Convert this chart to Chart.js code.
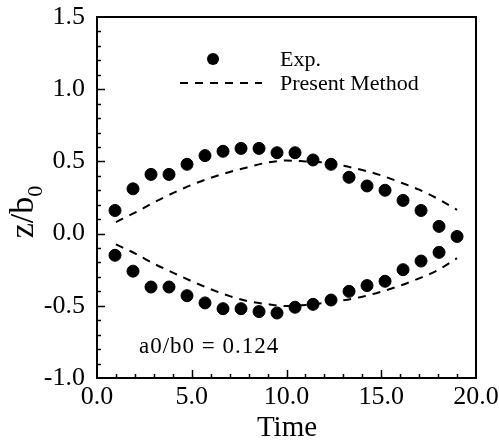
<!DOCTYPE html>
<html>
<head>
<meta charset="utf-8">
<script src="https://cdn.jsdelivr.net/npm/chart.js@4"></script>
<style>
  body { margin: 0; background: #fff; }
  canvas { display: block; }
</style>
</head>
<body>
<canvas id="plot" width="499" height="444"></canvas>
<script>
// measured displacement, upper and lower edge
const expTime = [0.95, 1.9, 2.85, 3.8, 4.75, 5.7, 6.65, 7.6, 8.55, 9.5, 10.45, 11.4, 12.35, 13.3, 14.25, 15.2, 16.15, 17.1, 18.05, 19.0];
const expUpper = [0.16, 0.31, 0.41, 0.41, 0.48, 0.54, 0.57, 0.59, 0.59, 0.56, 0.56, 0.51, 0.48, 0.39, 0.33, 0.30, 0.23, 0.16, 0.05, -0.02];
const expLower = [-0.15, -0.26, -0.37, -0.37, -0.43, -0.48, -0.52, -0.52, -0.54, -0.55, -0.51, -0.49, -0.46, -0.40, -0.36, -0.33, -0.25, -0.19, -0.13];

// computed curves
const methodTime = [1, 2, 3, 4, 5, 6, 7, 8, 9, 10, 11, 12, 13, 14, 15, 16, 17, 18, 19];
const methodUpper = [0.08, 0.145, 0.215, 0.28, 0.338, 0.386, 0.427, 0.461, 0.492, 0.506, 0.50, 0.492, 0.47, 0.44, 0.403, 0.355, 0.304, 0.24, 0.165];
const methodLower = [-0.075, -0.137, -0.208, -0.27, -0.33, -0.385, -0.433, -0.469, -0.489, -0.502, -0.495, -0.48, -0.462, -0.437, -0.402, -0.36, -0.31, -0.252, -0.17];

const xTicks = [0, 5, 10, 15, 20];
const yTicks = [-1.0, -0.5, 0.0, 0.5, 1.0, 1.5];

const serif = '"Liberation Serif", "Times New Roman", serif';
const dash = [8, 7];

function pts(xs, ys) {
    return ys.map((y, i) => ({ x: xs[i], y: y }));
}

// box, inward ticks, legend and labels
const decorations = {
    id: 'decorations',
    afterDraw(chart) {
        const ctx = chart.ctx;
        const a = chart.chartArea;
        const xs = chart.scales.x, ys = chart.scales.y;
        ctx.save();
        ctx.strokeStyle = '#000';
        ctx.lineWidth = 2;
        ctx.strokeRect(a.left, a.top, a.right - a.left, a.bottom - a.top);

        ctx.lineWidth = 1.5;
        ctx.beginPath();
        for (let t = 1; t < 20; t++) {
            const px = Math.round(xs.getPixelForValue(t)) + 0.5;
            const len = t % 5 === 0 ? 8 : 4;
            ctx.moveTo(px, a.bottom);
            ctx.lineTo(px, a.bottom - len);
        }
        for (let k = -9; k < 15; k++) {
            const py = Math.round(ys.getPixelForValue(k / 10)) + 0.5;
            const len = k % 5 === 0 ? 8 : 4;
            ctx.moveTo(a.left, py);
            ctx.lineTo(a.left + len, py);
        }
        ctx.stroke();

        // legend
        ctx.fillStyle = '#000';
        ctx.beginPath();
        ctx.arc(213, 59, 6, 0, Math.PI * 2);
        ctx.fill();
        ctx.setLineDash(dash);
        ctx.lineWidth = 2;
        ctx.beginPath();
        ctx.moveTo(180, 83);
        ctx.lineTo(262, 83);
        ctx.stroke();
        ctx.setLineDash([]);
        ctx.font = '22px ' + serif;
        ctx.textBaseline = 'alphabetic';
        ctx.textAlign = 'left';
        ctx.fillText('Exp.', 280, 66);
        ctx.fillText('Present Method', 280, 90);

        ctx.font = '23px ' + serif;
        ctx.letterSpacing = '1px';
        ctx.fillText('a0/b0 = 0.124', 139, 353);
        ctx.letterSpacing = '0px';

        // axis titles
        ctx.font = '29px ' + serif;
        ctx.textAlign = 'center';
        ctx.fillText('Time', 287, 436);

        ctx.translate(33, 212);
        ctx.rotate(-Math.PI / 2);
        ctx.textAlign = 'left';
        const main = 'z/b';
        ctx.font = '34px ' + serif;
        const w1 = ctx.measureText(main).width;
        ctx.font = '22px ' + serif;
        const w2 = ctx.measureText('0').width;
        const x0 = -(w1 + w2) / 2;
        ctx.font = '34px ' + serif;
        ctx.fillText(main, x0, 0);
        ctx.font = '22px ' + serif;
        ctx.fillText('0', x0 + w1, 9);
        ctx.restore();
    }
};

new Chart(document.getElementById('plot'), {
    type: 'scatter',
    data: {
        datasets: [
            {
                label: 'Exp.',
                data: pts(expTime, expUpper),
                backgroundColor: '#000',
                borderColor: '#000',
                pointRadius: 6,
                showLine: false,
            },
            {
                label: 'Exp. lower',
                data: pts(expTime, expLower),
                backgroundColor: '#000',
                borderColor: '#000',
                pointRadius: 6,
                showLine: false,
            },
            {
                label: 'Present Method',
                data: pts(methodTime, methodUpper),
                borderColor: '#000',
                borderWidth: 2,
                borderDash: dash,
                pointRadius: 0,
                showLine: true,
                cubicInterpolationMode: 'monotone',
            },
            {
                label: 'Present Method lower',
                data: pts(methodTime, methodLower),
                borderColor: '#000',
                borderWidth: 2,
                borderDash: dash,
                pointRadius: 0,
                showLine: true,
                cubicInterpolationMode: 'monotone',
            },
        ]
    },
    options: {
        responsive: false,
        animation: false,
        devicePixelRatio: 1,
        layout: { padding: { top: 17, right: 23, left: 0, bottom: 0 } },
        plugins: {
            legend: { display: false },
            tooltip: { enabled: false },
        },
        scales: {
            x: {
                type: 'linear',
                min: 0,
                max: 20,
                afterBuildTicks: (s) => { s.ticks = xTicks.map(v => ({ value: v })); },
                afterFit: (s) => {
                    s.height = 66;
                    s.paddingLeft = 0;
                    s.paddingRight = 0;
                },
                ticks: {
                    color: '#000',
                    padding: 4,
                    maxRotation: 0,
                    font: { family: serif, size: 26 },
                    callback: (v) => v.toFixed(1),
                },
                grid: { display: false, drawTicks: false },
                border: { display: false },
            },
            y: {
                type: 'linear',
                min: -1,
                max: 1.5,
                afterBuildTicks: (s) => { s.ticks = yTicks.map(v => ({ value: v })); },
                afterFit: (s) => {
                    s.width = 97;
                    s.paddingTop = 0;
                    s.paddingBottom = 0;
                },
                ticks: {
                    color: '#000',
                    padding: 12,
                    font: { family: serif, size: 26 },
                    callback: (v) => v.toFixed(1),
                },
                grid: { display: false, drawTicks: false },
                border: { display: false },
            }
        }
    },
    plugins: [decorations]
});
</script>
</body>
</html>
